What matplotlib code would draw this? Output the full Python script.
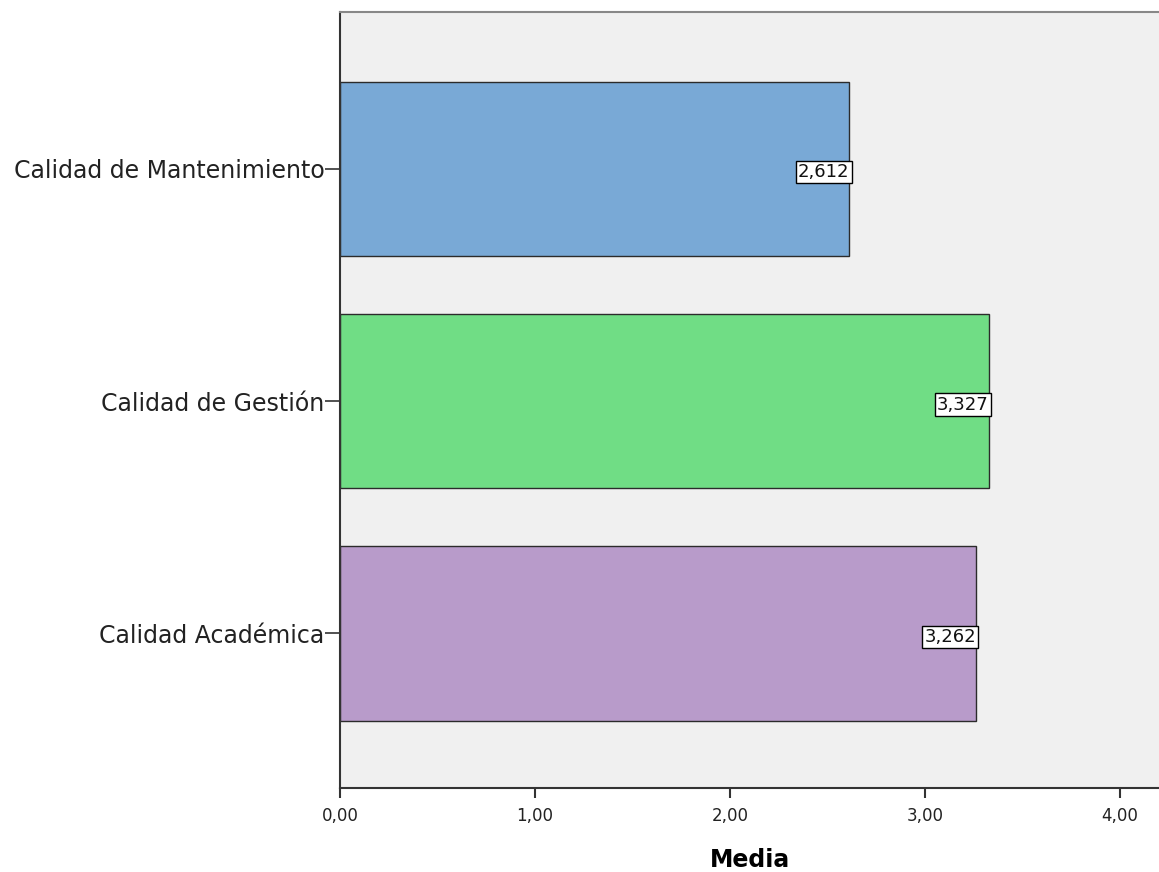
import matplotlib.pyplot as plt

categorias = ['Calidad de Mantenimiento', 'Calidad de Gestión', 'Calidad Académica']
medias = [2.612, 3.327, 3.262]
colores = ['#79a9d6', '#70dd85', '#b89bca']
ticks_x = [0, 1, 2, 3, 4]

plt.rcParams['font.family'] = ['DejaVu Sans']

fig = plt.figure(figsize=(11.59, 8.72), dpi=100)
ax = fig.add_axes([340 / 1159, 1 - 788 / 872, 1 - 340 / 1159, (788 - 12) / 872])
ax.set_facecolor('#f0f0f0')

pos = list(range(len(categorias)))
ax.barh(pos, medias, height=0.75, color=colores, edgecolor='#2b2b2b', linewidth=1)

for y, v in zip(pos, medias):
    ax.text(v, y + 0.015, f'{v:.3f}'.replace('.', ','), ha='right', va='center', fontsize=13,
            color='#111111',
            bbox=dict(boxstyle='square,pad=0.12', facecolor='white', edgecolor='black', linewidth=1))

ax.set_xlim(0, 4.2)
ax.set_ylim(2.665, -0.675)
ax.set_yticks(pos)
ax.set_yticklabels(categorias, fontsize=17, color='#222222')
ax.set_xticks(ticks_x)
ax.set_xticklabels([f'{t:.2f}'.replace('.', ',') for t in ticks_x], fontsize=12, color='#222222')
ax.tick_params(axis='x', direction='out', length=7, width=1.5, color='#333333', pad=7)
ax.tick_params(axis='y', direction='out', length=11, width=1.2, color='#333333', pad=0)
ax.set_xlabel('Media', fontsize=17, fontweight='bold', labelpad=16)

for lado in ['left', 'bottom']:
    ax.spines[lado].set_color('#333333')
    ax.spines[lado].set_linewidth(1.5)
ax.spines['top'].set_color('#888888')
ax.spines['top'].set_linewidth(1.5)
ax.spines['right'].set_visible(False)

fig.savefig('out.png', dpi=100)
